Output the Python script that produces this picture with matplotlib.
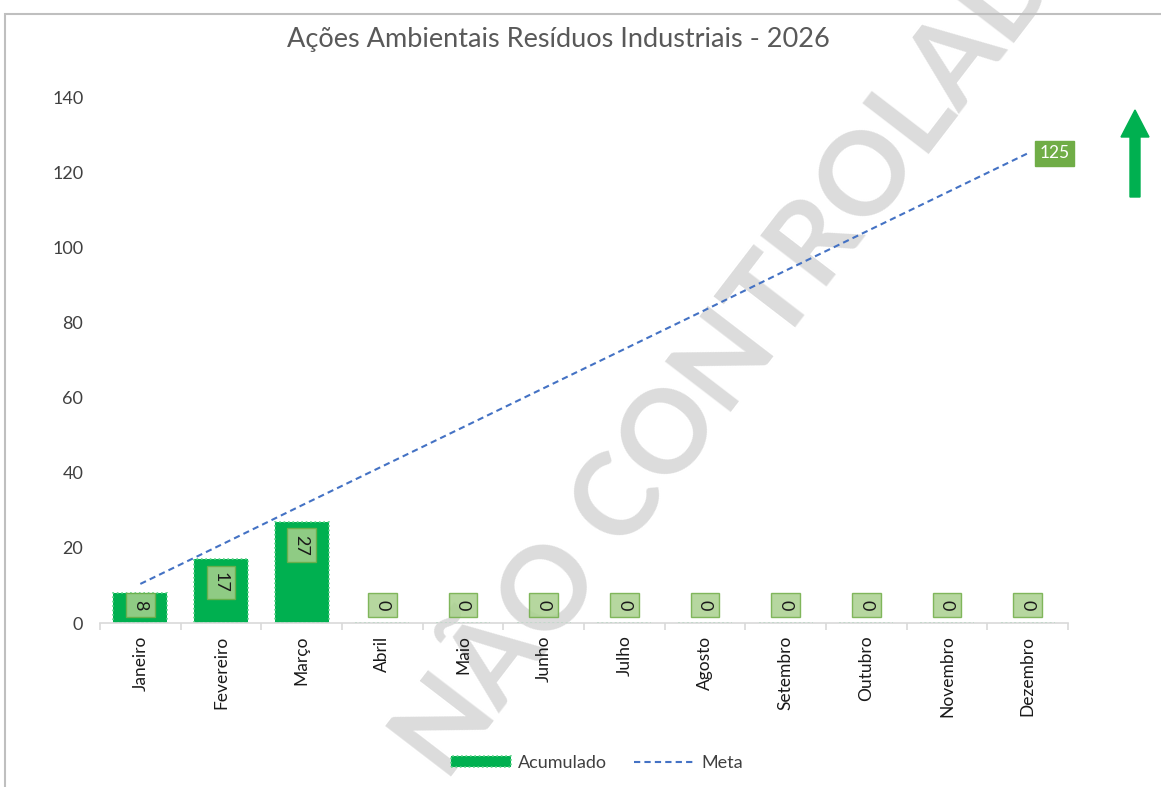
import numpy as np
import matplotlib
matplotlib.use("Agg")
import matplotlib.pyplot as plt
import matplotlib.patches as mpatches
from matplotlib.lines import Line2D

# ── data ─────────────────────────────────────────────────────────────────────
meses = ["Janeiro", "Fevereiro", "Março", "Abril", "Maio", "Junho",
         "Julho", "Agosto", "Setembro", "Outubro", "Novembro", "Dezembro"]
acumulado = [8, 17, 27, 0, 0, 0, 0, 0, 0, 0, 0, 0]
meta = [10.4, 20.8, 31.3, 41.7, 52.1, 62.5, 72.9, 83.3, 93.8, 104.2, 114.6, 125]
yticks = [0, 20, 40, 60, 80, 100, 120, 140]

# ── style ─────────────────────────────────────────────────────────────────────
plt.rcParams["font.family"] = ["Lato", "DejaVu Sans"]
C_BAR = "#00b050"; C_BAR_EDGE = "#5fd38a"; C_META = "#4472c4"
C_LBL = "#a9d18e"; C_LBL_EDGE = "#70ad47"; C_AXIS = "#d9d9d9"

W, H = 1161, 787
fig = plt.figure(figsize=(W / 100, H / 100), dpi=100)

# watermark + chart border (behind everything)
fig.text(752 / W, 1 - 330 / H, "NÃO CONTROLADA", rotation=52.5, fontsize=83,
         fontweight="bold", color="#dcdcdc", ha="center", va="center",
         rotation_mode="anchor", zorder=-5)
fig.patches.append(mpatches.Rectangle((0.045, -1), 20, (H - 14) / 100 + 1, fill=False,
                                      edgecolor="#bfbfbf", lw=1.5,
                                      transform=fig.dpi_scale_trans, zorder=-1))

ax = fig.add_axes([100 / W, 1 - 623 / H, (1068 - 100) / W, (623 - 97) / H])
ax.set_facecolor("none")
x = np.arange(len(meses))

ax.bar(x, acumulado, width=0.67, color=C_BAR, edgecolor=C_BAR_EDGE, linestyle=":",
       lw=1.2, zorder=2)
ax.plot(x, meta, color=C_META, lw=1.5, dashes=(3, 2), zorder=3)

ax.set_xlim(-0.5, len(meses) - 0.5)
ax.set_ylim(0, 140)
ax.set_yticks(yticks)
ax.set_xticks(x)
ax.set_xticklabels(meses, rotation=90, fontsize=12.5, color="#1a1a1a")
ax.set_xticks(np.arange(-0.5, len(meses), 1), minor=True)
ax.tick_params(axis="x", which="major", length=0, pad=9)
ax.tick_params(axis="x", which="minor", length=5, color=C_AXIS, width=1.2)
ax.tick_params(axis="y", length=0, labelsize=13, labelcolor="#404040", pad=12)
for s in ["top", "right", "left"]:
    ax.spines[s].set_visible(False)
ax.spines["bottom"].set_color(C_AXIS)
ax.spines["bottom"].set_linewidth(1.2)

# data labels (inside end, rotated)
px_per_unit = (623 - 97) / 140
for i, v in enumerate(acumulado):
    h = 23 if v < 10 else 33
    off = max(v * px_per_unit - 7 - h / 2, 18)
    ax.annotate(str(v), xy=(i, 0), xytext=(0, off), textcoords="offset pixels",
                ha="center", va="center", rotation=-90, fontsize=13, color="#1a1a1a",
                bbox=dict(boxstyle="square,pad=0.35", fc=C_LBL, ec=C_LBL_EDGE, lw=1, alpha=0.85),
                zorder=4)

ax.annotate(f"{meta[-1]:g}", xy=(x[-1], meta[-1]), xytext=(27, 0), textcoords="offset pixels",
            ha="center", va="center", fontsize=12.5, color="white",
            bbox=dict(boxstyle="square,pad=0.25", fc=C_LBL_EDGE, ec=C_LBL_EDGE), zorder=4)

# green up arrow
fig.patches.append(mpatches.FancyArrow(11.35, (H - 197) / 100, 0, 0.87, width=0.10,
                                       head_width=0.28, head_length=0.27,
                                       length_includes_head=True, color=C_BAR,
                                       transform=fig.dpi_scale_trans))

fig.text(558 / W, 1 - 40 / H, "Ações Ambientais Resíduos Industriais - 2026",
         fontsize=19.5, color="#595959", ha="center", va="center")

handles = [mpatches.Patch(facecolor=C_BAR, edgecolor=C_BAR_EDGE, linestyle=":", lw=1.2),
           Line2D([], [], color=C_META, lw=1.5, dashes=(3, 2))]
fig.legend(handles, ["Acumulado", "Meta"], loc="center", ncol=2,
           bbox_to_anchor=(597 / W, 1 - 763 / H), frameon=False, fontsize=13,
           handlelength=3.3, handleheight=0.6, handletextpad=0.4, columnspacing=1.5,
           labelcolor="#404040")

fig.savefig("out.png", dpi=100)
